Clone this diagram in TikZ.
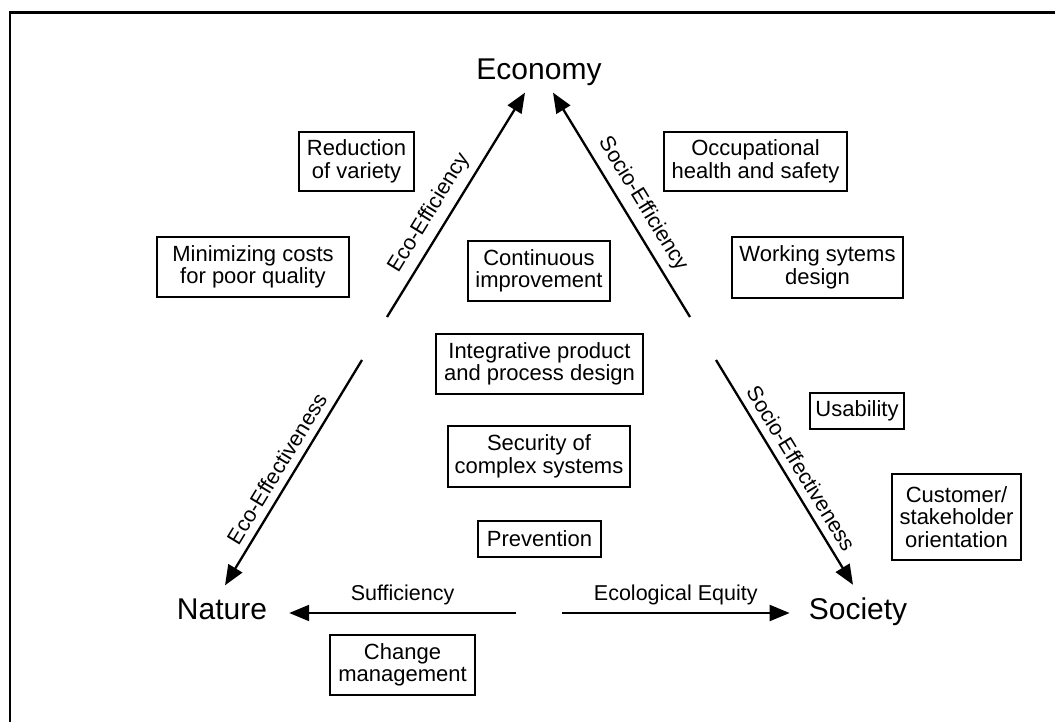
\documentclass[tikz,border=0pt]{standalone}
\usepackage{fontspec}
\setmainfont{Liberation Sans}
\usetikzlibrary{arrows.meta}

\begin{document}
\begin{tikzpicture}[x=1pt, y=-1pt,
  box/.style={draw, line width=2.4pt, align=center, inner sep=0pt,
    font=\fontsize{22}{22.5}\selectfont},
  pole/.style={inner sep=0pt, font=\fontsize{30}{32}\selectfont},
  flow/.style={line width=2.3pt, -{Triangle[length=20pt,width=16pt]}},
  lbl/.style={font=\fontsize{21.5}{22}\selectfont, sloped, above=4pt},
  every node/.style = {align=center}]

\path[fill=white] (0,0) rectangle (1055,722);
\useasboundingbox (0,0) rectangle (1055,722);
\draw[line width=2.6pt] (10,12.5) rectangle (1080,745);

% the three poles
\node[pole] (eco) at (539,72) {Economy};
\node[pole] (nat) at (222,609) {Nature};
\node[pole] (soc) at (858,612) {Society};

% ends of the split arrows
\coordinate (gapL1) at (387,317);
\coordinate (gapL2) at (362,360);
\coordinate (gapR1) at (690,317);
\coordinate (gapR2) at (716,360);
\coordinate (gapB1) at (516,613);
\coordinate (gapB2) at (562,613);

\draw[flow] (gapL1) -- ([xshift=-14pt,yshift=-7pt]eco.south)
  node[lbl, pos=0.42] {Eco-Efficiency};
\draw[flow] (gapL2) -- ([xshift=3pt,yshift=13pt]nat.north)
  node[lbl, pos=0.52] {Eco-Effectiveness};
\draw[flow] (gapR1) -- ([xshift=14pt,yshift=-7pt]eco.south)
  node[lbl, pos=0.46] {Socio-Efficiency};
\draw[flow] (gapR2) -- ([xshift=-5pt,yshift=13pt]soc.north)
  node[lbl, pos=0.52] {Socio-Effectiveness};
\draw[flow] (gapB1) -- ([xshift=22pt,yshift=-4pt]nat.east)
  node[lbl, midway] {Sufficiency};
\draw[flow] (gapB2) -- ([xshift=-19pt,yshift=-1pt]soc.west)
  node[lbl, midway] {Ecological Equity};

% measures
\node[box, minimum width=115pt, minimum height=59pt] (red) at (356.5,161.5) {Reduction\\of variety};
\node[box, minimum width=192pt, minimum height=60pt] (mincost) at (253,267) {Minimizing costs\\for poor quality};
\node[box, minimum width=183pt, minimum height=59pt] (occ) at (755.5,161.5) {Occupational\\health and safety};
\node[box, minimum width=171pt, minimum height=61pt] (work) at (817.5,267.5) {Working sytems\\design};
\node[box, minimum width=94pt, minimum height=36pt] (usab) at (857,411) {Usability};
\node[box, minimum width=142pt, minimum height=60pt] (cont) at (539,271) {Continuous\\improvement};
\node[box, minimum width=207pt, minimum height=60pt] (integ) at (539.5,364) {Integrative product\\and process design};
\node[box, minimum width=182pt, minimum height=61pt] (secu) at (539,456.5) {Security of\\complex systems};
\node[box, minimum width=123pt, minimum height=36pt] (prev) at (539.5,539) {Prevention};
\node[box, minimum width=145pt, minimum height=60pt] (chg) at (402.5,665) {Change\\management};
\node[box, minimum width=129pt, minimum height=86pt] (cust) at (956.5,517) {Customer/\\stakeholder\\orientation};
\end{tikzpicture}
\end{document}
